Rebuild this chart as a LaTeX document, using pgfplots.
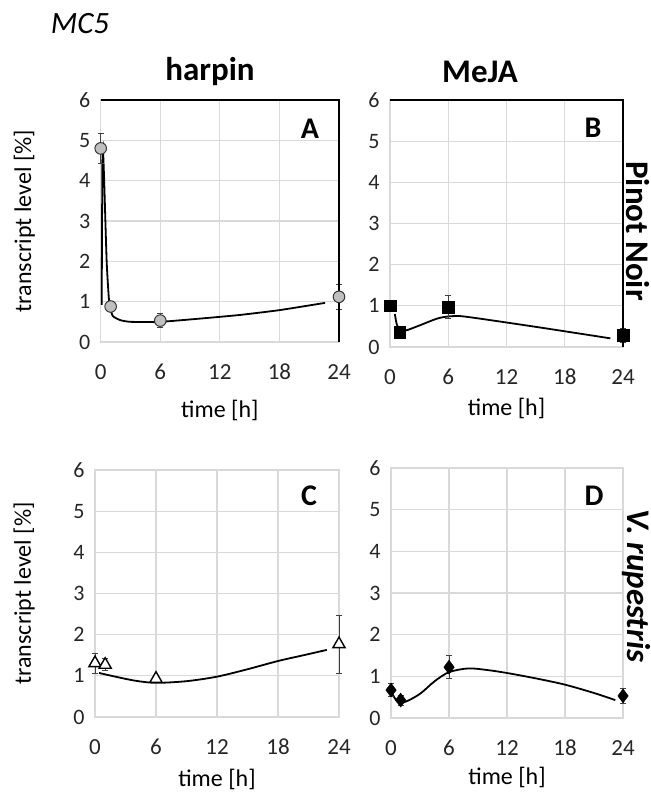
\documentclass[border=0pt]{standalone}
\usepackage{fontspec}
\setmainfont{Carlito}
\usepackage{pgfplots}
\pgfplotsset{compat=1.18}
\definecolor{gridgray}{HTML}{D9D9D9}
\definecolor{markgray}{HTML}{BFBFBF}
\pgfplotsset{
  panel/.style={
    scale only axis, anchor=south west,
    xmin=0, xmax=24, ymin=0, ymax=6,
    xtick={0,6,12,18,24}, ytick={0,1,2,3,4,5,6},
    grid=major, grid style={draw=gridgray, line width=1.3pt},
    axis line style={draw=gridgray, line width=1.3pt},
    major tick length=0pt,
    /pgf/number format/assume math mode=true,
    yticklabel style={font=\fontsize{22}{26}\selectfont, text=black!85, xshift=-7pt},
    xticklabel style={font=\fontsize{23}{27}\selectfont, text=black!85, anchor=center, yshift=-30pt},
    xlabel={time [h]},
    xlabel style={font=\fontsize{24}{28}\selectfont, at={(axis description cs:0.5,0)}, anchor=center},
    ylabel style={font=\fontsize{24}{28}\selectfont, anchor=center},
    clip=false,
  },
  curve/.style={black, line width=1.8pt, smooth, tension=0.5, no marks},
  ebar/.style={error bars/.cd, y dir=both, y explicit,
    error bar style={line width=0.8pt, black!75},
    error mark options={rotate=90, mark size=3pt, line width=0.8pt, black!75}},
}
\begin{document}
\begin{tikzpicture}
\useasboundingbox (0,0) rectangle (651pt,793pt);
% Panel A
\begin{axis}[panel, at={(100.7pt,451pt)}, width=238.3pt, height=242pt,
  xlabel style={yshift=-68pt},
  ylabel={transcript level [\%]}, ylabel style={at={(axis description cs:-0.32,0.5)}}]
\addplot[curve, tension=0.3] coordinates {(0.1,0.92) (0.13,2.6) (0.17,4.5) (0.22,4.85) (0.35,4.0) (0.6,2.0) (0.85,1.0) (1.2,0.65) (2,0.54) (3,0.5) (6,0.5) (10,0.58) (14,0.67) (18,0.79) (22.6,0.97)};
\addplot[only marks, mark=*, mark size=5.8pt, mark options={fill=markgray, draw=black!80, line width=1pt}, ebar]
  coordinates {(0,4.8) +- (0,0.37) (1,0.88) +- (0,0.08) (6,0.53) +- (0,0.17) (24,1.12) +- (0,0.3)};
\draw[black, line width=1.5pt] (rel axis cs:0,1) -- (rel axis cs:1,1) -- (rel axis cs:1,0);
\end{axis}
% Panel B
\begin{axis}[panel, at={(390pt,446pt)}, width=233pt, height=247pt,
  xlabel style={yshift=-61pt}]
\addplot[curve] coordinates {(0.5,0.8) (0.7,0.55) (1,0.43) (1.6,0.4) (3,0.52) (5,0.7) (6.5,0.75) (8,0.73) (15,0.49) (22.7,0.21)};
\addplot[only marks, mark=square*, mark size=5.8pt, mark options={fill=black, draw=black}, ebar]
  coordinates {(0,1.0) +- (0,0.05) (1,0.36) +- (0,0.06) (6,0.97) +- (0,0.28) (24,0.29) +- (0,0.17)};
\draw[black, line width=1.5pt] (rel axis cs:0,1) -- (rel axis cs:1,1) -- (rel axis cs:1,0);
\end{axis}
% Panel C
\begin{axis}[panel, at={(95pt,76pt)}, width=244pt, height=247pt,
  xlabel style={yshift=-62pt},
  ylabel={transcript level [\%]}, ylabel style={at={(axis description cs:-0.29,0.5)}}]
\addplot[curve] coordinates {(0.4,1.07) (2,0.98) (4,0.88) (6,0.83) (9,0.87) (12,0.98) (15,1.16) (18,1.36) (20.5,1.5) (22.8,1.63)};
\addplot[only marks, mark=triangle*, mark size=7pt, mark options={fill=white, draw=black, line width=1.4pt}, ebar]
  coordinates {(0,1.31) +- (0,0.24) (1,1.27) +- (0,0.15) (6,0.93) +- (0,0.05) (24,1.77) +- (0,0.7)};
\end{axis}
% Panel D
\begin{axis}[panel, at={(391pt,75pt)}, width=232pt, height=250pt,
  xlabel style={yshift=-59pt}]
\addplot[curve] coordinates {(0.1,0.6) (0.7,0.38) (1.5,0.39) (3,0.58) (4.5,0.88) (6,1.1) (8,1.19) (10,1.15) (12,1.08) (15,0.95) (18,0.8) (21,0.6) (23.2,0.43)};
\addplot[only marks, mark=diamond*, mark size=7pt, mark options={fill=black, draw=black}, ebar]
  coordinates {(0,0.67) +- (0,0.15) (1,0.43) +- (0,0.12) (6,1.22) +- (0,0.28) (24,0.53) +- (0,0.18)};
\end{axis}
% Titles and labels
\node[font=\fontsize{31}{35}\selectfont\itshape] at (80pt,769pt) {MC5};
\node[font=\fontsize{33}{37}\selectfont\bfseries] at (210pt,721pt) {harpin};
\node[font=\fontsize{33}{37}\selectfont\bfseries] at (480pt,721pt) {MeJA};
\node[font=\fontsize{33}{37}\selectfont\bfseries, rotate=-90] at (638pt,562pt) {Pinot Noir};
\node[font=\fontsize{33}{37}\selectfont\bfseries\itshape, rotate=-90] at (636pt,207pt) {V. rupestris};
\node[font=\fontsize{30}{34}\selectfont\bfseries] at (310pt,664pt) {A};
\node[font=\fontsize{30}{34}\selectfont\bfseries] at (593pt,665pt) {B};
\node[font=\fontsize{30}{34}\selectfont\bfseries] at (309pt,297pt) {C};
\node[font=\fontsize{30}{34}\selectfont\bfseries] at (594pt,297pt) {D};
\end{tikzpicture}
\end{document}
